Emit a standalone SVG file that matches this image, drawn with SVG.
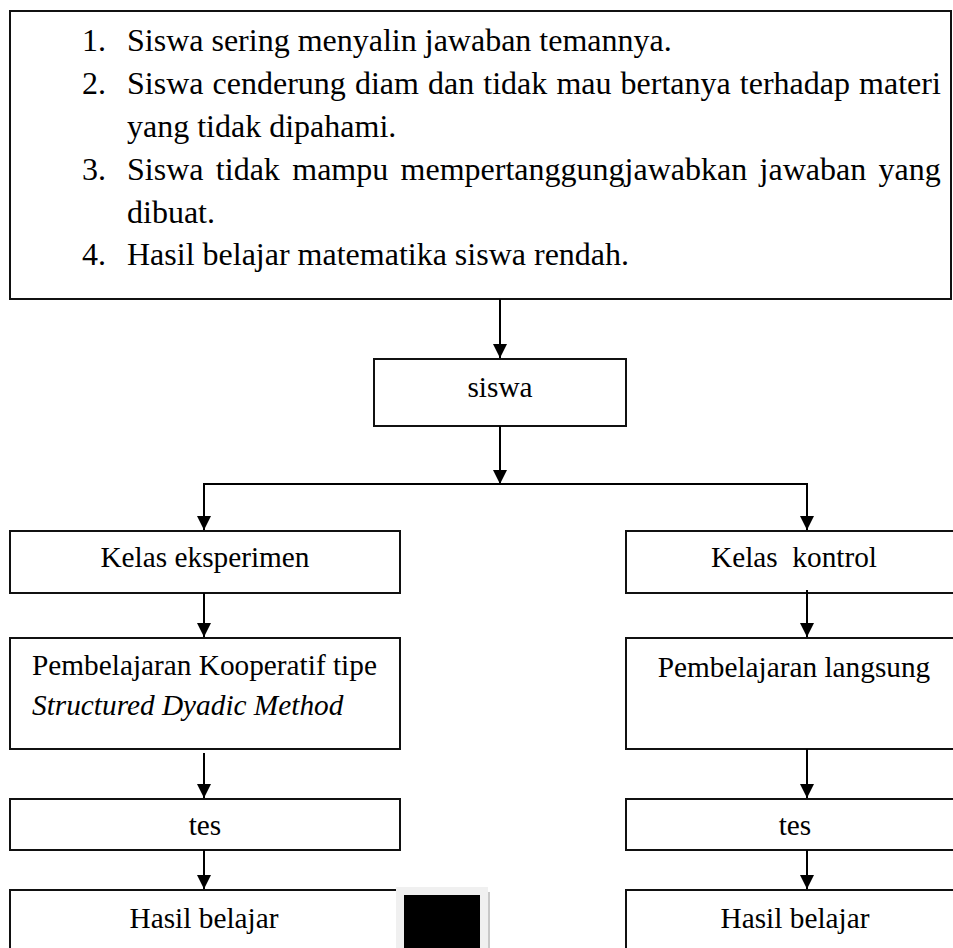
<svg xmlns="http://www.w3.org/2000/svg" width="953" height="948" viewBox="0 0 953 948">
<defs>
<style>
.box{fill:#fff;stroke:#111;stroke-width:2}
.top{font-size:32px}
.lbl{font-size:29.3px}
.c{text-anchor:middle}
.ln{stroke:#000;stroke-width:2;fill:none}
</style>
<marker id="ah" viewBox="0 0 14 14" refX="14" refY="7" markerWidth="14" markerHeight="14" markerUnits="userSpaceOnUse" orient="auto">
<path d="M0,0 L14,7 L0,14 Z" fill="#000"/>
</marker>
</defs>
<rect width="953" height="948" fill="#fff"/>

<g font-family="'Liberation Serif', serif" fill="#000">
<g id="problems">
<rect class="box" x="10" y="11" width="941" height="288"/>
<text class="top" x="82" y="51">1.</text>
<text class="top" x="127" y="51">Siswa sering menyalin jawaban temannya.</text>
<text class="top" x="82" y="94">2.</text>
<text class="top" x="127" y="94" word-spacing="1.1">Siswa cenderung diam dan tidak mau bertanya terhadap materi</text>
<text class="top" x="127" y="137">yang tidak dipahami.</text>
<text class="top" x="82" y="180">3.</text>
<text class="top" x="127" y="180" word-spacing="4.4">Siswa tidak mampu mempertanggungjawabkan jawaban yang</text>
<text class="top" x="127" y="223">dibuat.</text>
<text class="top" x="82" y="265">4.</text>
<text class="top" x="127" y="265">Hasil belajar matematika siswa rendah.</text>
</g>

<g id="siswa">
<rect class="box" x="374" y="359" width="252" height="67"/>
<text class="lbl c" x="500" y="397">siswa</text>
</g>

<g id="kelas-eksperimen">
<rect class="box" x="10" y="531" width="390" height="62"/>
<text class="lbl c" x="205" y="567">Kelas eksperimen</text>
</g>

<g id="kelas-kontrol">
<rect class="box" x="626" y="531" width="340" height="62"/>
<text class="lbl c" x="794" y="567" xml:space="preserve">Kelas  kontrol</text>
</g>

<g id="pembelajaran-kooperatif">
<rect class="box" x="10" y="638" width="390" height="111"/>
<text class="lbl" x="32" y="675">Pembelajaran Kooperatif tipe</text>
<text class="lbl" x="32" y="715" font-style="italic">Structured Dyadic Method</text>
</g>

<g id="pembelajaran-langsung">
<rect class="box" x="626" y="638" width="340" height="111"/>
<text class="lbl c" x="794" y="677">Pembelajaran langsung</text>
</g>

<g id="tes-eksperimen">
<rect class="box" x="10" y="799" width="390" height="51"/>
<text class="lbl c" x="205" y="835">tes</text>
</g>

<g id="tes-kontrol">
<rect class="box" x="626" y="799" width="340" height="51"/>
<text class="lbl c" x="795" y="835">tes</text>
</g>

<g id="hasil-eksperimen">
<rect class="box" x="10" y="890" width="390" height="80"/>
<text class="lbl c" x="204" y="928">Hasil belajar</text>
</g>

<g id="hasil-kontrol">
<rect class="box" x="626" y="890" width="340" height="80"/>
<text class="lbl c" x="795" y="928">Hasil belajar</text>
</g>
</g>

<g id="black-square">
<rect x="396" y="887" width="92" height="61" fill="#f0f0f0"/>
<rect x="488" y="892" width="2" height="56" fill="#c8c8c8"/>
<rect x="404" y="895" width="76" height="53" fill="#000"/>
</g>

<g id="connectors">
<line class="ln" x1="500" y1="299" x2="500" y2="358" marker-end="url(#ah)"/>
<line class="ln" x1="500" y1="426" x2="500" y2="484" marker-end="url(#ah)"/>
<line class="ln" x1="203" y1="484" x2="808" y2="484"/>
<line class="ln" x1="204" y1="484" x2="204" y2="530" marker-end="url(#ah)"/>
<line class="ln" x1="807" y1="484" x2="807" y2="530" marker-end="url(#ah)"/>
<line class="ln" x1="204" y1="593" x2="204" y2="637" marker-end="url(#ah)"/>
<line class="ln" x1="807" y1="590" x2="807" y2="637" marker-end="url(#ah)"/>
<line class="ln" x1="204" y1="753" x2="204" y2="798" marker-end="url(#ah)"/>
<line class="ln" x1="807" y1="749" x2="807" y2="798" marker-end="url(#ah)"/>
<line class="ln" x1="204" y1="850" x2="204" y2="889" marker-end="url(#ah)"/>
<line class="ln" x1="807" y1="850" x2="807" y2="889" marker-end="url(#ah)"/>
</g>
</svg>
